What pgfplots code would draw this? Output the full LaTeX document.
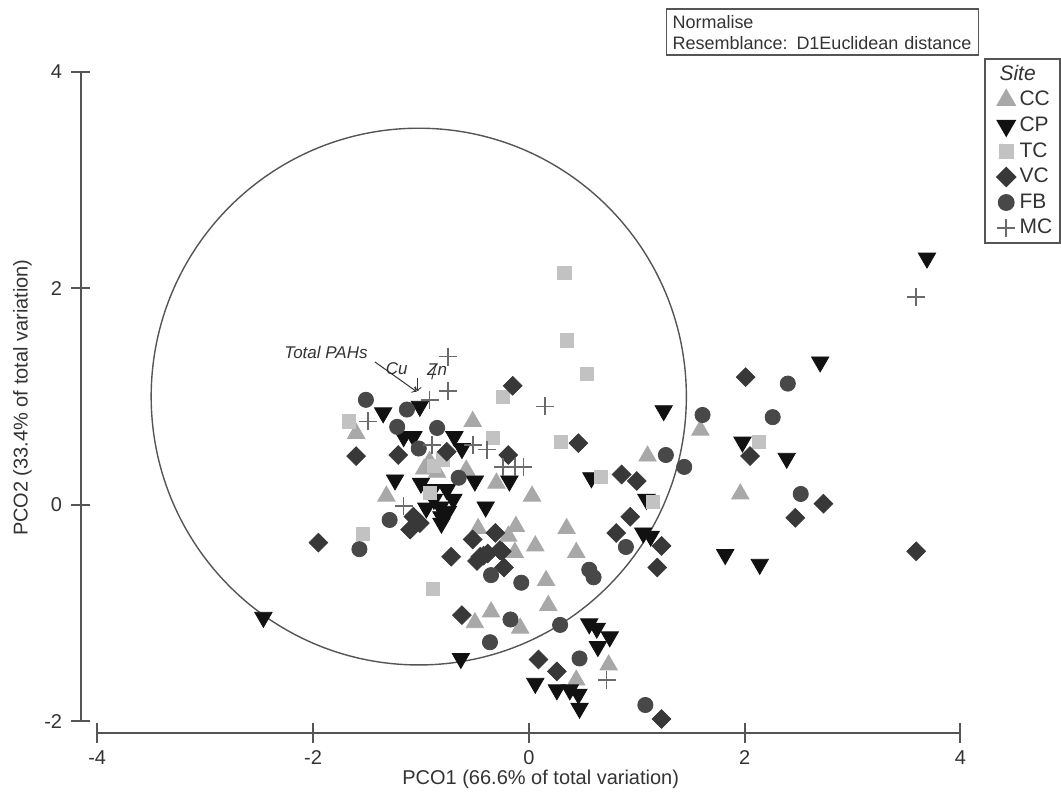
\documentclass[border=0pt]{standalone}
\usepackage{fontspec}
\setmainfont{Liberation Sans}
\usepackage{pgfplots}
\pgfplotsset{compat=1.18}
\definecolor{ccc}{HTML}{A8A8A8}
\definecolor{cpc}{HTML}{111111}
\definecolor{tcc}{HTML}{C2C2C2}
\definecolor{vcc}{HTML}{383838}
\definecolor{fbc}{HTML}{484848}
\definecolor{mcc}{HTML}{6A6A6A}
\definecolor{axc}{HTML}{555555}
\definecolor{txc}{HTML}{333333}
\begin{document}
\begin{tikzpicture}
\begin{axis}[
  scale only axis, width=530.5pt, height=399.5pt,
  xmin=-4.901, xmax=4.926, ymin=-2.714, ymax=4.665,
  hide axis, clip=false,
  legend style={at={(axis cs:4.222,4.127)}, anchor=north west, draw=axc, line width=0.8pt,
    font=\fontsize{10.5}{12}\selectfont, text=txc, inner xsep=2pt, inner ysep=1pt,
    /tikz/every even column/.append style={column sep=1pt}},
  legend cell align=left,
]
\path (rel axis cs:0,0) rectangle (rel axis cs:1,1);
\addlegendimage{empty legend}\addlegendentry{\hspace*{-10pt}\textit{Site}}
% CC
\addplot[only marks, mark=triangle*, mark size=5pt, color=ccc] coordinates {
(1.59,0.69) (1.96,0.10) (1.10,0.45) (0.03,0.08) (-0.12,-0.20) (0.35,-0.22)
(0.06,-0.38) (0.44,-0.44) (-0.13,-0.44) (0.16,-0.70) (0.18,-0.93) (-0.35,-0.99)
(-0.50,-1.09) (-0.08,-1.14) (0.74,-1.48) (0.44,-1.62) (-1.60,0.66) (-1.32,0.08)
(-0.97,0.33) (-0.92,0.40) (-0.52,0.77) (-0.58,0.32) (-0.47,-0.22) (-0.19,-0.29)
(-0.85,0.30) (-0.30,0.20)
};
\addlegendentry{CC}
% CP
\addplot[only marks, mark=triangle*, mark size=5pt, mark options={rotate=180}, color=cpc] coordinates {
(3.69,2.28) (2.70,1.32) (1.98,0.58) (2.39,0.43) (1.82,-0.46) (2.14,-0.55)
(-0.18,0.22) (-0.40,-0.02) (0.58,0.25) (1.09,0.05) (1.06,-0.26) (1.13,-0.29)
(0.56,-1.10) (0.63,-1.14) (0.75,-1.22) (0.64,-1.31) (-0.63,-1.42) (0.06,-1.65)
(0.26,-1.71) (0.38,-1.71) (0.46,-1.75) (0.47,-1.88) (-1.35,0.85) (-1.01,0.91)
(-1.07,0.63) (-1.16,0.63) (-1.24,0.23) (-0.89,0.14) (-0.82,-0.02) (-0.81,-0.11)
(-1.00,0.20) (-2.46,-1.04) (-0.69,0.63) (-0.62,0.52) (-0.50,0.22) (-0.81,-0.17)
(-0.76,0.14) (1.25,0.87) (-0.88,0.05) (-0.75,-0.06) (-0.70,0.05) (-0.95,-0.03)
};
\addlegendentry{CP}
% TC
\addplot[only marks, mark=square*, mark size=3.3pt, color=tcc] coordinates {
(2.13,0.58) (0.67,0.26) (1.15,0.03) (-1.67,0.77) (-1.54,-0.27) (-0.89,-0.78)
(0.33,2.14) (0.35,1.52) (0.54,1.21) (-0.24,1.00) (-0.33,0.62) (0.30,0.58)
(-0.92,0.11) (-0.88,0.36) (-0.80,0.42)
};
\addlegendentry{TC}
% VC
\addplot[only marks, mark=square*, mark size=3.3pt, mark options={rotate=45}, color=vcc] coordinates {
(2.01,1.18) (2.05,0.45) (2.73,0.01) (2.47,-0.12) (3.59,-0.43) (0.86,0.28)
(1.00,0.22) (0.94,-0.11) (0.81,-0.26) (1.23,-0.38) (1.19,-0.58) (-0.52,-0.32)
(-0.31,-0.26) (-0.27,-0.42) (-0.42,-0.47) (-0.48,-0.52) (-0.23,-0.58) (-0.72,-0.48)
(-0.62,-1.02) (0.09,-1.43) (0.26,-1.54) (1.23,-1.98) (-1.60,0.45) (-1.21,0.46)
(-0.76,0.49) (-1.07,-0.11) (-1.01,-0.17) (-1.10,-0.23) (-1.95,-0.35) (-0.15,1.10)
(0.46,0.57) (-0.19,0.46) (-0.45,-0.48) (-0.38,-0.45) (-0.25,-0.43)
};
\addlegendentry{VC}
% FB
\addplot[only marks, mark=*, mark size=3.8pt, color=fbc] coordinates {
(2.40,1.12) (1.61,0.83) (2.26,0.81) (1.44,0.35) (2.52,0.10) (1.27,0.46)
(0.90,-0.39) (-0.35,-0.65) (-0.07,-0.72) (0.56,-0.60) (0.60,-0.67) (-0.17,-1.06)
(0.29,-1.11) (-0.36,-1.27) (0.47,-1.42) (1.08,-1.85) (-1.51,0.97) (-1.13,0.88)
(-0.85,0.71) (-1.22,0.72) (-1.02,0.52) (-1.29,-0.14) (-1.57,-0.41) (-0.65,0.25)
};
\addlegendentry{FB}
% MC
\addplot[only marks, mark=+, mark size=4.5pt, mark options={line width=0.8pt}, color=mcc] coordinates {
(3.59,1.92) (0.72,-1.62) (-1.49,0.77) (-1.16,-0.01) (-0.90,0.55) (0.15,0.91)
(-0.75,1.37) (-0.75,1.05) (-0.52,0.55) (-0.39,0.51) (-0.13,0.35) (-0.05,0.35)
(-0.24,0.35) (-0.92,0.97)
};
\addlegendentry{MC}
% circle and vectors
\draw[axc, line width=0.7pt] (axis cs:-1.02,1.0) ellipse [x radius=2.48, y radius=2.48];
\draw[txc, line width=0.5pt, ->] (axis cs:-1.426,1.32) -- (axis cs:-1.04,1.046);
\draw[txc, line width=0.5pt, ->] (axis cs:-1.03,1.17) -- (axis cs:-1.03,1.05);
\draw[txc, line width=0.5pt] (axis cs:-0.86,1.30) -- (axis cs:-0.90,1.16);
\node[txc, font=\fontsize{8.5}{10}\selectfont\itshape] at (axis cs:-1.88,1.41) {Total PAHs};
\node[txc, font=\fontsize{8.5}{10}\selectfont\itshape] at (axis cs:-1.225,1.26) {Cu};
\node[txc, font=\fontsize{8.5}{10}\selectfont\itshape] at (axis cs:-0.85,1.25) {Zn};
% axes (range frame)
\draw[axc, line width=1pt] (axis cs:-4.154,-2) -- (axis cs:-4.154,4);
\draw[axc, line width=1pt] (axis cs:-4,-2.107) -- (axis cs:4,-2.107);
\pgfplotsinvokeforeach{-2,0,2,4}{
  \draw[axc, line width=1pt] (axis cs:-4.244,#1) -- (axis cs:-4.064,#1);
  \node[txc, anchor=east, font=\fontsize{10}{12}\selectfont] at (axis cs:-4.26,#1) {#1};
  \draw[axc, line width=1pt] (axis cs:#1,-2.197) -- (axis cs:#1,-2.017);
  \node[txc, font=\fontsize{10}{12}\selectfont] at (axis cs:#1,-2.336) {#1};
}
\draw[axc, line width=1pt] (axis cs:-4,-2.197) -- (axis cs:-4,-2.017);
\node[txc, font=\fontsize{10}{12}\selectfont] at (axis cs:-4,-2.336) {-4};
\node[txc, font=\fontsize{10}{12}\selectfont] at (axis cs:0.11,-2.54) {PCO1 (66.6\% of total variation)};
\node[txc, rotate=90, font=\fontsize{10}{12}\selectfont] at (axis cs:-4.694,0.99) {PCO2 (33.4\% of total variation)};
\node[draw=axc, line width=0.8pt, anchor=north west, text=txc, align=left, text width=150pt, inner sep=3pt,
  font=\fontsize{9}{10.5}\selectfont] at (axis cs:1.269,4.589) {Normalise\\Resemblance: D1Euclidean distance};
\end{axis}
\end{tikzpicture}
\end{document}
